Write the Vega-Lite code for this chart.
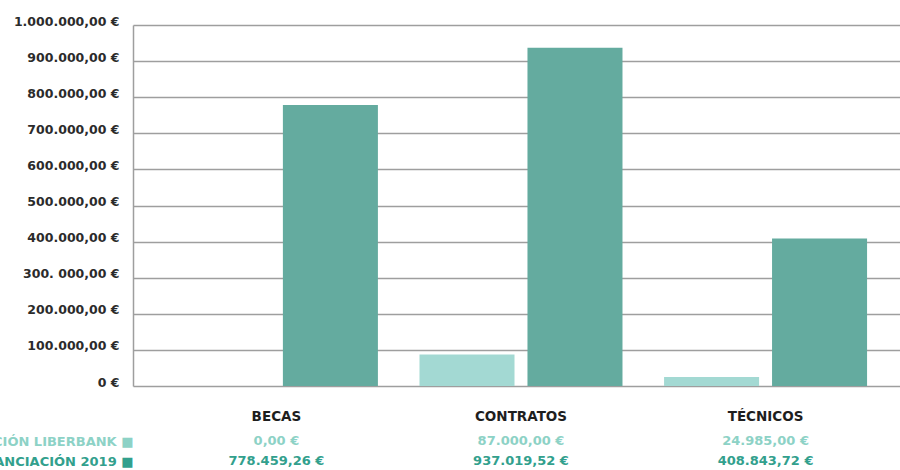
{
  "$schema": "https://vega.github.io/schema/vega-lite/v6.json",
  "autosize": "none",
  "padding": {"left": 133, "top": 25, "right": 767, "bottom": 445},
  "background": "white",
  "config": {
    "locale": {"number": {"decimal": ",", "thousands": ".", "grouping": [3], "currency": ["", " €"]}},
    "view": {"stroke": null},
    "font": "DejaVu Sans"
  },
  "data": {
    "values": [
      {"categoria": "BECAS", "serie": "FINANCIACIÓN LIBERBANK", "importe": 0},
      {"categoria": "BECAS", "serie": "TOTAL FINANCIACIÓN 2019", "importe": 778459.26},
      {"categoria": "CONTRATOS", "serie": "FINANCIACIÓN LIBERBANK", "importe": 87000},
      {"categoria": "CONTRATOS", "serie": "TOTAL FINANCIACIÓN 2019", "importe": 937019.52},
      {"categoria": "TÉCNICOS", "serie": "FINANCIACIÓN LIBERBANK", "importe": 24985},
      {"categoria": "TÉCNICOS", "serie": "TOTAL FINANCIACIÓN 2019", "importe": 408843.72}
    ]
  },
  "bounds": "flush",
  "spacing": 45,
  "resolve": {"scale": {"x": "independent", "y": "independent", "color": "independent"}},
  "vconcat": [
    {
      "width": 767,
      "height": 361,
      "mark": {"type": "bar"},
      "encoding": {
        "x": {
          "field": "categoria", "type": "nominal",
          "scale": {"type": "band", "domain": ["BECAS", "CONTRATOS", "TÉCNICOS"], "paddingInner": 0.17, "paddingOuter": 0.153, "align": 0.56},
          "axis": null
        },
        "xOffset": {
          "field": "serie", "type": "nominal",
          "scale": {"domain": ["FINANCIACIÓN LIBERBANK", "TOTAL FINANCIACIÓN 2019"], "paddingInner": 0.12, "paddingOuter": 0}
        },
        "y": {
          "field": "importe", "type": "quantitative",
          "scale": {"domain": [0, 1000000]},
          "axis": {
            "values": [0, 100000, 200000, 300000, 400000, 500000, 600000, 700000, 800000, 900000, 1000000],
            "format": "$,.2f",
            "labelExpr": "datum.value == 0 ? '0 €' : datum.value == 300000 ? '300. 000,00 €' : datum.label",
            "title": null,
            "ticks": false,
            "labelPadding": 14,
            "labelFont": "DejaVu Sans",
            "labelFontWeight": "bold",
            "labelFontSize": 12.5,
            "labelColor": "#2b2b2b",
            "labelOffset": -4,
            "gridColor": "#9e9e9e",
            "gridWidth": 1.5,
            "domainColor": "#9e9e9e",
            "domainWidth": 1.5
          }
        },
        "color": {
          "field": "serie", "type": "nominal",
          "scale": {"domain": ["FINANCIACIÓN LIBERBANK", "TOTAL FINANCIACIÓN 2019"], "range": ["#a3d9d3", "#64ab9f"]},
          "legend": null
        }
      }
    },
    {
      "width": 767,
      "height": 40,
      "mark": {"type": "text", "fontWeight": "bold", "fontSize": 13, "font": "DejaVu Sans", "baseline": "middle"},
      "encoding": {
        "x": {
          "field": "categoria", "type": "nominal",
          "scale": {"type": "band", "domain": ["BECAS", "CONTRATOS", "TÉCNICOS"], "paddingInner": 0.17, "paddingOuter": 0.153, "align": 0.56},
          "axis": {"orient": "top", "title": null, "ticks": false, "domain": false, "labelAngle": 0, "labelPadding": 8, "labelFont": "DejaVu Sans", "labelFontWeight": "bold", "labelFontSize": 13.5, "labelColor": "#1e1e1e"}
        },
        "y": {
          "field": "serie", "type": "nominal",
          "scale": {"domain": ["FINANCIACIÓN LIBERBANK", "TOTAL FINANCIACIÓN 2019"]},
          "axis": {
            "title": null, "ticks": false, "domain": false, "grid": false, "labelPadding": 0,
            "labelExpr": "datum.label + ' ■'",
            "labelColor": {"condition": {"test": "datum.value == 'FINANCIACIÓN LIBERBANK'", "value": "#8dd2c6"}, "value": "#32a08d"},
            "labelFont": "DejaVu Sans", "labelFontWeight": "bold", "labelFontSize": 13, "labelLimit": 0
          }
        },
        "text": {"field": "importe", "type": "quantitative", "format": "$,.2f"},
        "color": {
          "field": "serie", "type": "nominal",
          "scale": {"domain": ["FINANCIACIÓN LIBERBANK", "TOTAL FINANCIACIÓN 2019"], "range": ["#8dd2c6", "#32a08d"]},
          "legend": null
        }
      }
    }
  ]
}
